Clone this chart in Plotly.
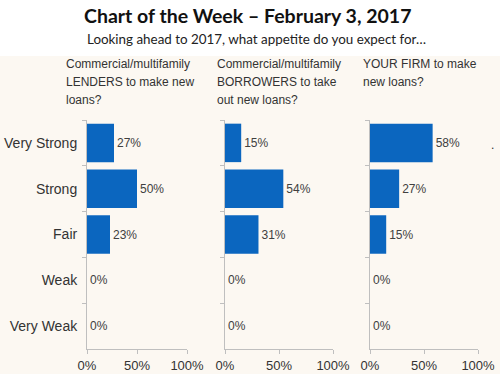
import plotly.graph_objects as go

categories = ["Very Strong", "Strong", "Fair", "Weak", "Very Weak"]
lenders = [27, 50, 23, 0, 0]
borrowers = [15, 54, 31, 0, 0]
your_firm = [58, 27, 15, 0, 0]
panel_titles = [
    ["Commercial/multifamily", "LENDERS to make new", "loans?"],
    ["Commercial/multifamily", "BORROWERS to take", "out new loans?"],
    ["YOUR FIRM to make", "new loans?"],
]
x_tickvals = [0, 50, 100]
x_ticktext = ["0%", "50%", "100%"]

W, H = 500, 374
bar_color = "#0b66bf"
axis_color = "#bfbfbf"
font_family = "Liberation Sans, Arial, sans-serif"

fig = go.Figure()
series = [lenders, borrowers, your_firm]
x_domains = [(87, 187), (225, 333), (370, 478)]
y_dom = [1 - 349 / H, 1 - 120 / H]

for i, vals in enumerate(series):
    suffix = "" if i == 0 else str(i + 1)
    fig.add_trace(go.Bar(
        x=vals, y=categories, orientation="h",
        marker=dict(color=bar_color, line=dict(width=0)),
        text=[f"{v}%" for v in vals], textposition="outside",
        textfont=dict(size=12, color="#404040", family=font_family),
        cliponaxis=False,
        xaxis="x" + suffix, yaxis="y" + suffix,
        showlegend=False, hoverinfo="skip",
    ))
    d = x_domains[i]
    fig.layout["xaxis" + suffix] = dict(
        domain=[d[0] / W, d[1] / W], range=[0, 100], anchor="y" + suffix,
        tickvals=x_tickvals, ticktext=x_ticktext, ticks="outside", ticklen=4,
        tickcolor=axis_color, showline=True, linecolor=axis_color, linewidth=1,
        showgrid=False, zeroline=False,
        tickfont=dict(size=13, color="#333333", family=font_family),
        fixedrange=True,
    )
    fig.layout["yaxis" + suffix] = dict(
        domain=y_dom, anchor="x" + suffix, autorange="reversed",
        type="category", tickson="boundaries", ticks="outside", ticklen=4,
        tickcolor=axis_color, showline=True, linecolor=axis_color, linewidth=1,
        showgrid=False, zeroline=False, showticklabels=(i == 0),
        tickfont=dict(size=14, color="#333333", family=font_family),
        ticklabelstandoff=6 if i == 0 else 0,
        fixedrange=True,
    )

title_x = [64, 215, 361]
annotations = []
for i, lines in enumerate(panel_titles):
    for j, line in enumerate(lines):
        annotations.append(dict(
            text=line, x=title_x[i] / W, y=1 - (64 + 18 * j) / H,
            xref="paper", yref="paper",
            xanchor="left", yanchor="middle", align="left", showarrow=False,
            font=dict(size=12, color="#333333", family=font_family),
        ))
annotations.append(dict(
    text="<b>Chart of the Week – February 3, 2017</b>", x=0.495, y=1 - 15 / H,
    xref="paper", yref="paper", xanchor="center", yanchor="middle",
    showarrow=False, font=dict(size=19.5, color="#111111", family="Lato, Open Sans, sans-serif"),
))
annotations.append(dict(
    text="Looking ahead to 2017, what appetite do you expect for…", x=0.512, y=1 - 39 / H,
    xref="paper", yref="paper", xanchor="center", yanchor="middle",
    showarrow=False, font=dict(size=13.4, color="#222222", family="Lato, Open Sans, sans-serif"),
))
annotations.append(dict(
    text=".", x=492 / W, y=1 - 145 / H, xref="paper", yref="paper",
    xanchor="center", yanchor="middle", showarrow=False,
    font=dict(size=12, color="#333333", family=font_family),
))

fig.update_layout(
    width=W, height=H, margin=dict(l=0, r=0, t=0, b=0, autoexpand=False),
    paper_bgcolor="white", plot_bgcolor="rgba(0,0,0,0)",
    bargap=0.16, annotations=annotations,
    shapes=[dict(type="rect", xref="paper", yref="paper", x0=0, x1=1,
                 y0=0, y1=1 - 56 / H, fillcolor="#fcf8f2", line=dict(width=0),
                 layer="below")],
)

fig.write_html(
    "out.html",
    config={"displayModeBar": False},
    post_script="document.body.style.margin='0';document.body.style.overflow='hidden';",
)
